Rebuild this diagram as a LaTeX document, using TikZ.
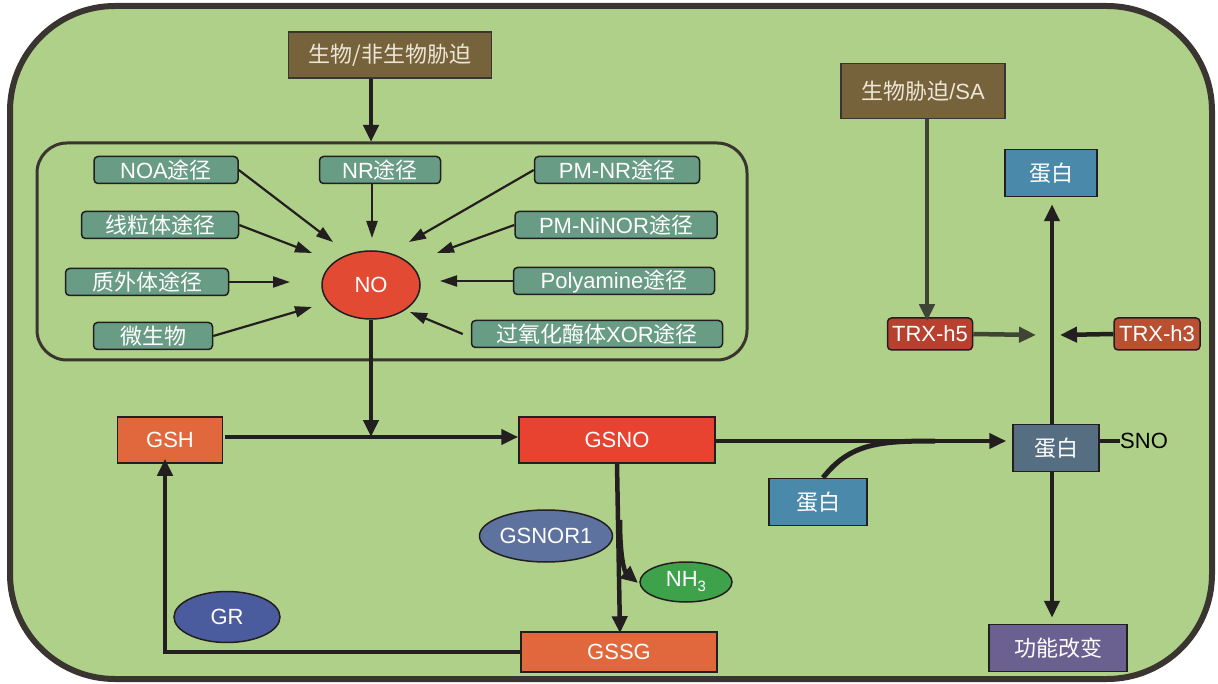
\documentclass[tikz,border=0pt]{standalone}
\usepackage{fontspec}
\setmainfont{Liberation Sans}
\newfontfamily\cjk{Noto Sans CJK SC}
\usetikzlibrary{arrows.meta,shapes.geometric}
\definecolor{bggreen}{HTML}{AFD088}
\definecolor{frame}{HTML}{3A3530}
\definecolor{tealc}{HTML}{689C84}
\definecolor{brownc}{HTML}{76633C}
\definecolor{nored}{HTML}{E24A33}
\definecolor{orangec}{HTML}{E0683C}
\definecolor{gsnored}{HTML}{E84231}
\definecolor{gsnorc}{HTML}{5E72A0}
\definecolor{grc}{HTML}{4B5C9E}
\definecolor{nhc}{HTML}{3EA24B}
\definecolor{bluec}{HTML}{4A89AA}
\definecolor{midc}{HTML}{566E82}
\definecolor{purplec}{HTML}{6A6190}
\definecolor{trxa}{HTML}{B8402F}
\definecolor{trxb}{HTML}{BA5032}
\definecolor{linec}{HTML}{231F20}
\definecolor{grayline}{HTML}{3F4535}
\definecolor{beige}{HTML}{EDE6D6}
\newcommand{\zh}[1]{{\cjk #1}}
\newcommand{\fsz}{\fontsize{22}{25}\selectfont}
\begin{document}
\begin{tikzpicture}[x=1pt,y=-1pt,
  box/.style={draw=linec, line width=1.5, inner sep=0, text=white, font=\fsz, align=center},
  tealbox/.style={box, fill=tealc, rounded corners=4, minimum height=27},
  brownbox/.style={box, fill=brownc, text=beige, draw=frame},
  ell/.style={ellipse, draw=linec, line width=1.5, inner sep=0, text=white, font=\fsz},
  thinarrow/.style={draw=linec, line width=2.2, -{Triangle[length=17,width=11]}},
  thickarrow/.style={draw=linec, line width=4.5, -{Triangle[length=17,width=15]}},
  thickline/.style={draw=linec, line width=4.5}
]
\useasboundingbox (0,0) rectangle (1218,684);
% outer frame
\draw[line width=6, draw=frame, fill=bggreen, rounded corners=105] (10,6) rectangle (1212,679);
% inner box
\draw[line width=3, draw=frame, rounded corners=30] (37,143) rectangle (747,360);

% top stress box
\node[brownbox, minimum width=203, minimum height=46] (stress) at (390,55) {\zh{生物/非生物胁迫}};
\coordinate (ibtop) at (371,142);
\draw[thickarrow] (stress.south -| ibtop) -- (ibtop);

% teal pathway boxes
\node[tealbox, minimum width=144] (noa) at (166,170) {NOA\zh{途径}};
\node[tealbox, minimum width=121] (nr) at (380,170) {NR\zh{途径}};
\node[tealbox, minimum width=157] (mito) at (160,225) {\zh{线粒体途径}};
\node[tealbox, minimum width=163] (apo) at (147,282) {\zh{质外体途径}};
\node[tealbox, minimum width=119] (micro) at (153,336) {\zh{微生物}};
\node[tealbox, minimum width=165] (pmnr) at (617,170) {PM-NR\zh{途径}};
\node[tealbox, minimum width=202] (pmni) at (616,225) {PM-NiNOR\zh{途径}};
\node[tealbox, minimum width=201] (poly) at (614,281) {Polyamine\zh{途径}};
\node[tealbox, minimum width=251] (xor) at (597,334) {\zh{过氧化酶体}XOR\zh{途径}};

% NO
\node[ell, fill=nored, minimum width=98, minimum height=68] (no) at (371,285) {NO};

% arrows into NO
\coordinate (t1) at (333,242);
\coordinate (t2) at (312,253);
\coordinate (t3) at (290,282);
\coordinate (t4) at (312,307);
\coordinate (t5) at (372,238);
\coordinate (t6) at (409,242);
\coordinate (t7) at (437,253);
\coordinate (t8) at (440,281);
\coordinate (t9) at (410,312);
\draw[thinarrow] (noa.east) -- (t1);
\draw[thinarrow] (mito.east) -- (t2);
\draw[thinarrow] (apo.east) -- (t3);
\draw[thinarrow] (micro.east) -- (t4);
\draw[thinarrow] (nr.south -| t5) -- (t5);
\draw[thinarrow] (pmnr.west) -- (t6);
\draw[thinarrow] (pmni.west) -- (t7);
\draw[thinarrow] (poly.west) -- (t8);
\draw[thinarrow] ([xshift=-8]xor.west) -- (t9);

% GSH / GSNO / GSSG
\node[box, fill=orangec, minimum width=105, minimum height=46] (gsh) at (170,440) {GSH};
\node[box, fill=gsnored, minimum width=196, minimum height=46] (gsno) at (617,440) {GSNO};
\node[box, fill=orangec, minimum width=196, minimum height=40] (gssg) at (619,652) {GSSG};
\node[ell, fill=gsnorc, minimum width=133, minimum height=52] (gsnor) at (546,536) {GSNOR1};
\node[ell, fill=nhc, minimum width=92, minimum height=40] (nh3) at (686,582) {NH\raisebox{-5pt}{\fontsize{15}{15}\selectfont 3}};
\node[ell, fill=grc, minimum width=106, minimum height=51] (gr) at (227,617) {GR};

\coordinate (nojoin) at (371,437);
\draw[thickarrow] (no.south) -- (nojoin);
\draw[thickarrow] ([xshift=2,yshift=3]gsh.east) -- ([yshift=3]gsno.west);
\draw[thickarrow] (gsno.south) -- ([xshift=1,yshift=-2]gssg.north);
\coordinate (br) at (620,520);
\coordinate (nhtip) at (638,583);
\draw[thickarrow] (br) .. controls (620,560) and (625,572) .. (nhtip);
\draw[thickarrow] (gssg.west) -| ([xshift=-5,yshift=5]gsh.south);

% right part
\node[box, fill=bluec, minimum width=98, minimum height=47] (pb) at (818,502) {\zh{蛋白}};
\node[box, fill=midc, minimum width=86, minimum height=47] (sp) at (1056,448) {\zh{蛋白}};
\node[box, fill=bluec, minimum width=92, minimum height=47] (ptop) at (1051,173) {\zh{蛋白}};
\node[box, fill=purplec, minimum width=138, minimum height=47] (fc) at (1058,648) {\zh{功能改变}};
\node[font=\fsz, text=black, inner sep=0, anchor=west] (sno) at (1120,441) {SNO};
\draw[line width=4, draw=linec] (sno.west -| sp.east) -- (sno.west);

\draw[thickarrow, shorten >=6] (gsno.east |- 0,441) -- (sp.west |- 0,441);
\coordinate (merge) at (935,441);
\draw[thickline, line width=5] ([xshift=5]pb.north) .. controls (850,443) and (880,441) .. (merge);
\draw[thickarrow, shorten >=7] ([xshift=-4]sp.north) -- (ptop.south -| 1052,0);
\draw[thickarrow, shorten >=6] ([xshift=-4]sp.south) -- (fc.north -| 1052,0);

\node[brownbox, minimum width=164, minimum height=55] (sa) at (923,91) {\zh{生物胁迫}/SA};
\node[box, fill=trxa, rounded corners=4, minimum width=85, minimum height=32] (h5) at (930,334) {TRX-h5};
\node[box, fill=trxb, rounded corners=4, minimum width=86, minimum height=32] (h3) at (1157,334) {TRX-h3};
\draw[draw=grayline, line width=4.5, -{Triangle[length=17,width=15]}] (sa.south -| 927,0) -- ([yshift=-4]h5.north -| 927,0);
\coordinate (h5tip) at (1036,335);
\coordinate (h3tip) at (1060,335);
\draw[draw=grayline, line width=4.5, -{Triangle[length=17,width=15]}] (h5.east) -- (h5tip);
\draw[thickarrow] (h3.west) -- (h3tip);
\end{tikzpicture}
\end{document}
